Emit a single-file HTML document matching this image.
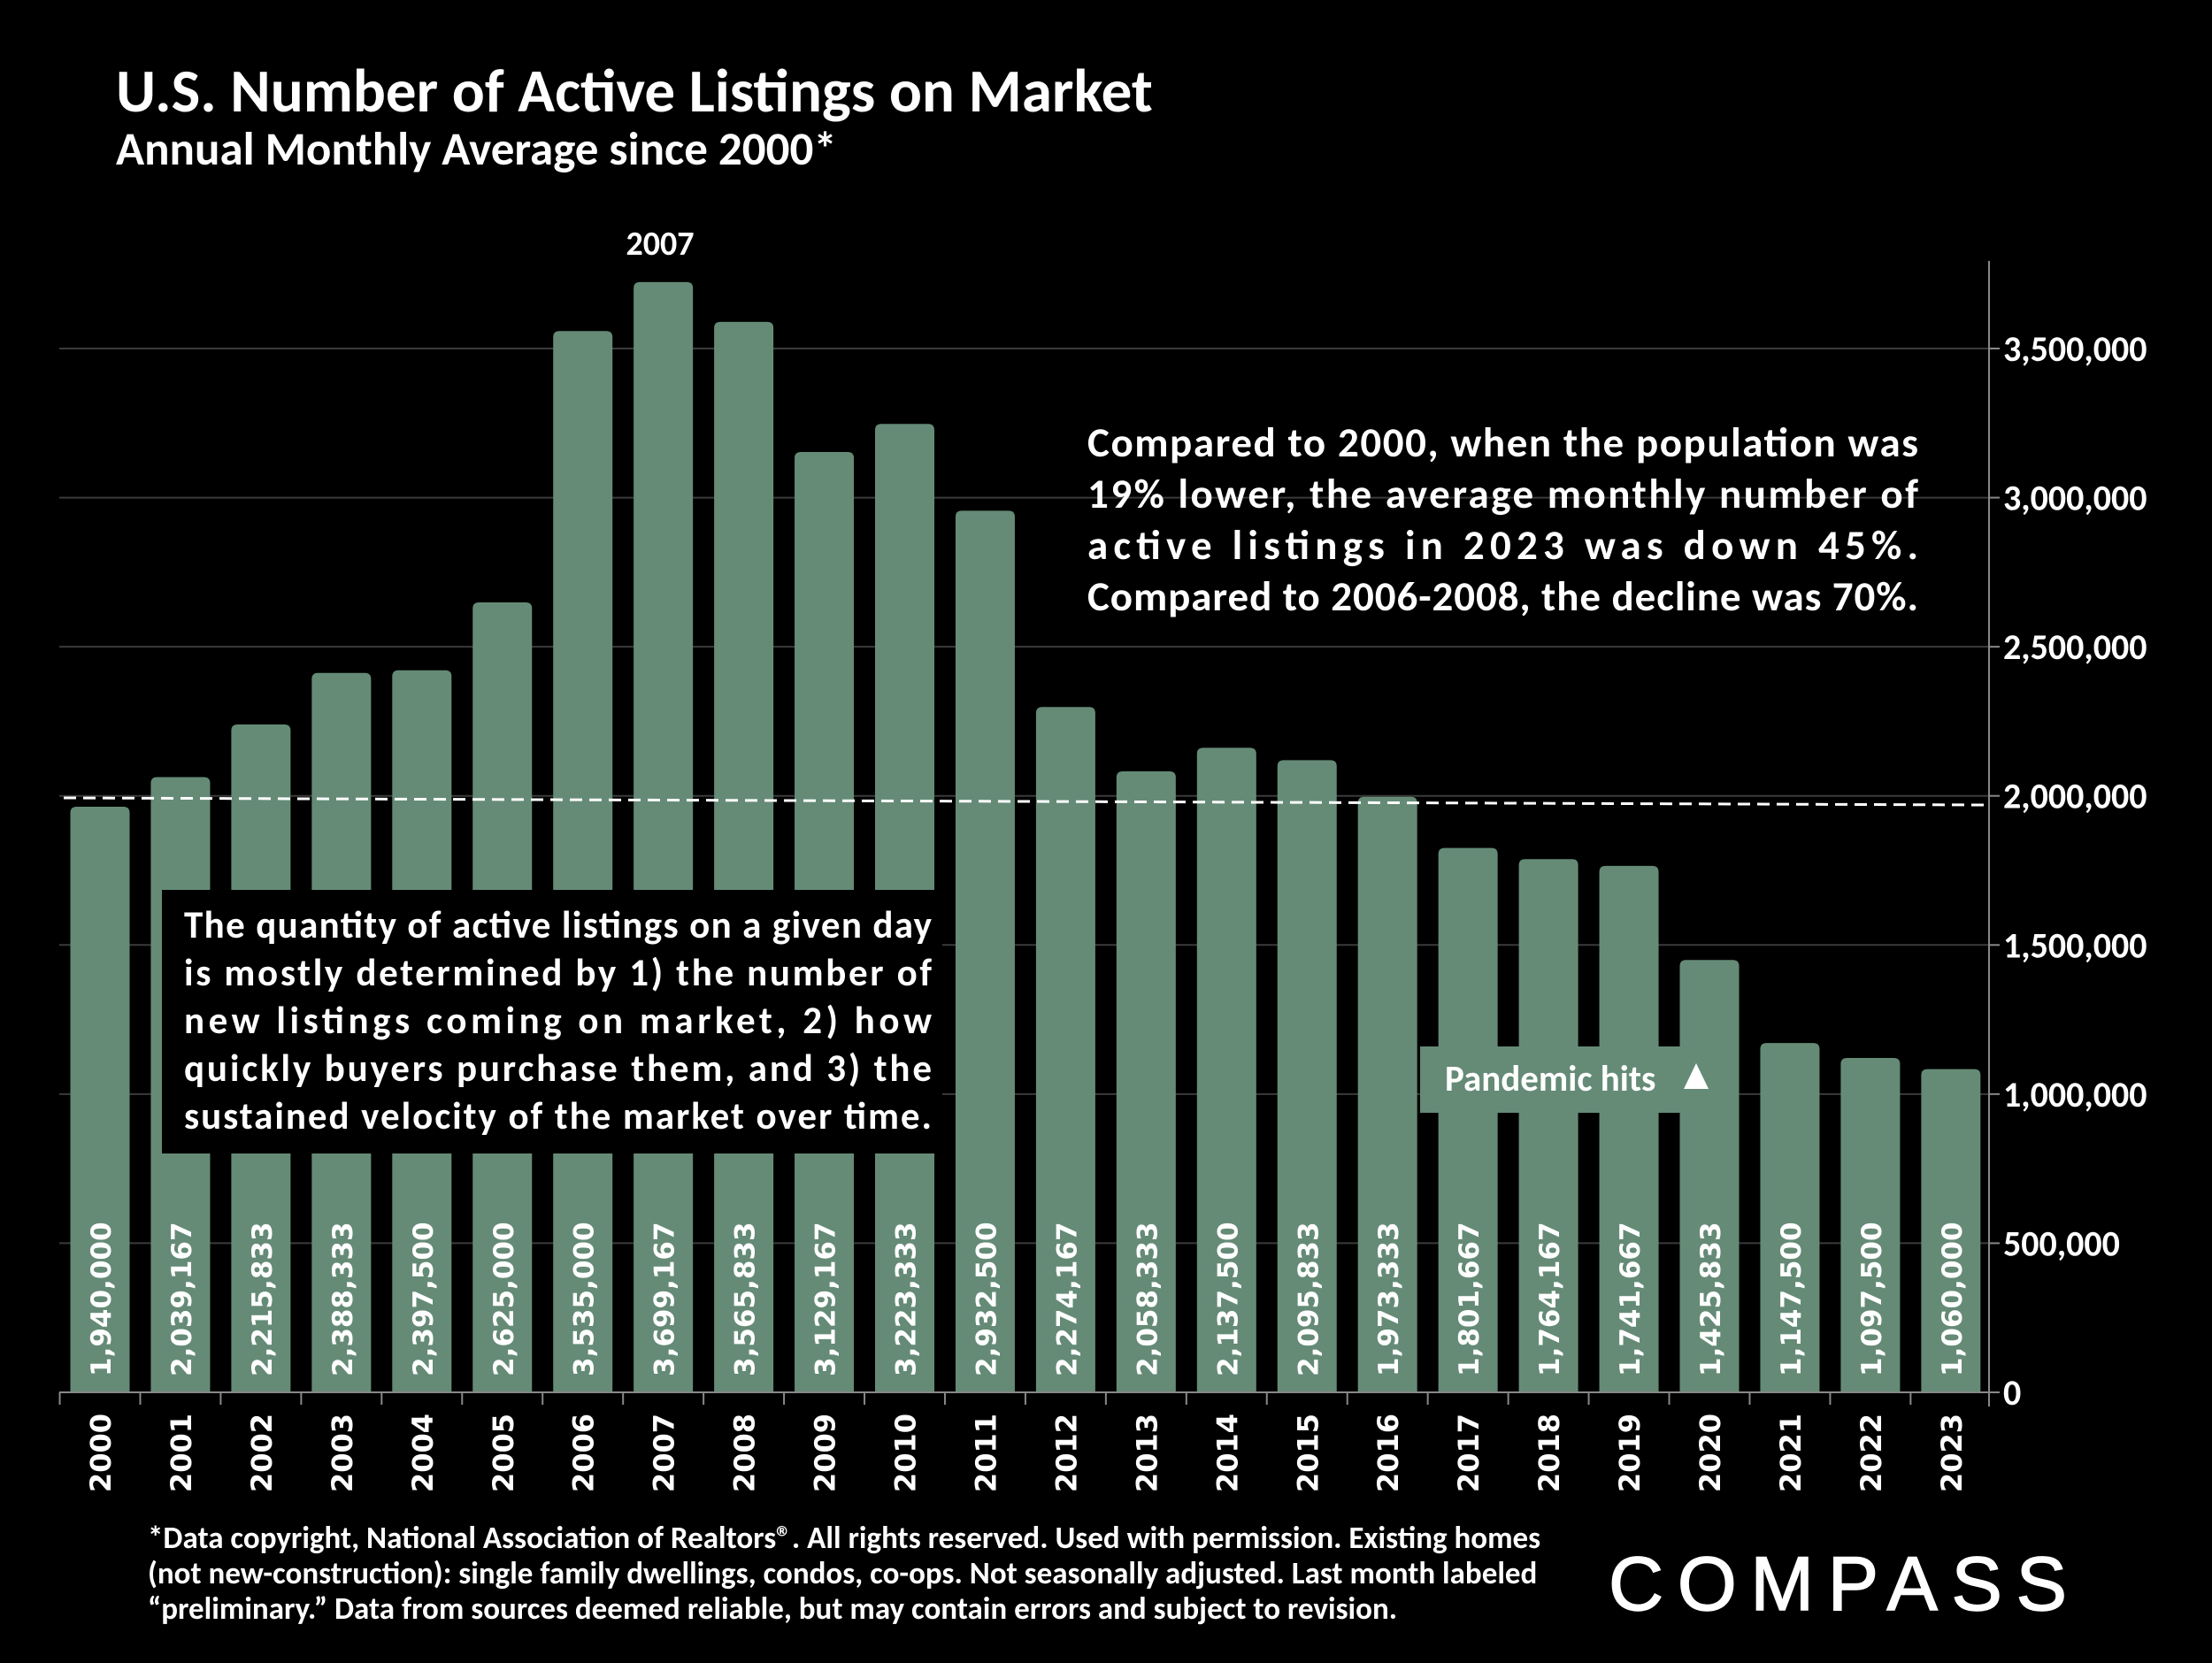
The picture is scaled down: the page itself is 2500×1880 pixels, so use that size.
<!DOCTYPE html>
<html><head><meta charset="utf-8"><style>
body{margin:0;background:#000;width:2500px;height:1875px;overflow:hidden;font-family:Carlito,"Liberation Sans Narrow","Liberation Sans",sans-serif;color:#fff}
</style></head><body>
<svg id="chart" width="2500" height="1875" viewBox="0 0 2500 1875" xmlns="http://www.w3.org/2000/svg">
<rect width="2500" height="1875" fill="#000"/>
<text x="131" y="126" font-size="69" font-weight="bold" fill="#fff">U.S. Number of Active Listings on Market</text>
<text x="131" y="186" font-size="53" font-weight="bold" fill="#fff">Annual Monthly Average since 2000*</text>
<g id="grid"></g><g id="bars"></g><g id="axes"></g>
<line x1="72" y1="902" x2="2244" y2="910" stroke="#fff" stroke-width="3" stroke-dasharray="14,8"/>
<text x="746" y="288" font-size="38" font-weight="bold" fill="#fff" text-anchor="middle">2007</text>
<g font-size="47" font-weight="bold" fill="#fff">
<text x="1229" y="516" textLength="939" lengthAdjust="spacing">Compared to 2000, when the population was</text>
<text x="1229" y="574" textLength="939" lengthAdjust="spacing">19% lower, the average monthly number of</text>
<text x="1229" y="632" textLength="939" lengthAdjust="spacing">active listings in 2023 was down 45%.</text>
<text x="1229" y="690" textLength="939" lengthAdjust="spacing">Compared to 2006-2008, the decline was 70%.</text>
</g>
<rect x="183" y="1006" width="882" height="298" fill="#000"/>
<g font-size="43" font-weight="bold" fill="#fff">
<text x="208" y="1060" textLength="845" lengthAdjust="spacing">The quantity of active listings on a given day</text>
<text x="208" y="1114" textLength="845" lengthAdjust="spacing">is mostly determined by 1) the number of</text>
<text x="208" y="1168" textLength="845" lengthAdjust="spacing">new listings coming on market, 2) how</text>
<text x="208" y="1222" textLength="845" lengthAdjust="spacing">quickly buyers purchase them, and 3) the</text>
<text x="208" y="1276" textLength="845" lengthAdjust="spacing">sustained velocity of the market over time.</text>
</g>
<rect x="1605" y="1183" width="340" height="75" fill="#658b77"/>
<text x="1633" y="1233" font-size="41" font-weight="bold" fill="#fff">Pandemic hits</text>
<polygon points="1917,1202 1931,1231 1903,1231" fill="#fff"/>
<g font-size="35" font-weight="bold" fill="#fff">
<text x="167" y="1750">*Data copyright, National Association of Realtors®. All rights reserved. Used with permission. Existing homes</text>
<text x="167" y="1790">(not new-construction): single family dwellings, condos, co-ops. Not seasonally adjusted. Last month labeled</text>
<text x="167" y="1830">“preliminary.” Data from sources deemed reliable, but may contain errors and subject to revision.</text>
</g>
<text x="1818" y="1820" font-family="'Liberation Sans',sans-serif" font-size="86" fill="#fff" stroke="#fff" stroke-width="1.5" textLength="518" lengthAdjust="spacing">COMPASS</text>
</svg>
<script>
const years=["2000","2001","2002","2003","2004","2005","2006","2007","2008","2009","2010","2011","2012","2013","2014","2015","2016","2017","2018","2019","2020","2021","2022","2023"];
const listings=[1940000,2039167,2215833,2388333,2397500,2625000,3535000,3699167,3565833,3129167,3223333,2932500,2274167,2058333,2137500,2095833,1973333,1801667,1764167,1741667,1425833,1147500,1097500,1060000];
const yTicks=[0,500000,1000000,1500000,2000000,2500000,3000000,3500000];
const NS="http://www.w3.org/2000/svg";
const baseY=1574,pxPer=168.57/500000,x0=113,step=90.95,bw=67,axisX=2248,left=67,lift=8;
const yS=v=>baseY-v*pxPer, xS=i=>x0+i*step;
function mk(t,a,p){const e=document.createElementNS(NS,t);for(const k in a)e.setAttribute(k,a[k]);p.appendChild(e);return e;}
const grid=document.getElementById('grid'),bars=document.getElementById('bars'),axes=document.getElementById('axes');
yTicks.forEach(v=>{
 const y=yS(v);
 if(v>0){const g=mk('line',{x1:left,y1:y,x2:axisX,y2:y,stroke:'#3a3a3a','stroke-width':2},grid);
 
 }
 const tk=mk('line',{x1:axisX,y1:y,x2:axisX+12,y2:y,stroke:'#888','stroke-width':2},axes);
 
 
 const t=mk('text',{x:axisX+16,y:y+14,'font-size':40,'font-weight':'bold',fill:'#fff'},axes);
 
 
 t.textContent=v.toLocaleString('en-US');
});
const ax=mk('line',{x1:axisX,y1:295,x2:axisX,y2:baseY+16,stroke:'#888','stroke-width':2},axes);


const bx=mk('line',{x1:left,y1:baseY,x2:axisX,y2:baseY,stroke:'#888','stroke-width':2},axes);


years.forEach((yr,i)=>{
 const cx=xS(i),v=listings[i],top=yS(v)-lift,r=7;
 const b=mk('path',{d:`M${cx-bw/2},${baseY} V${top+r} Q${cx-bw/2},${top} ${cx-bw/2+r},${top} H${cx+bw/2-r} Q${cx+bw/2},${top} ${cx+bw/2},${top+r} V${baseY} Z`,fill:'#658b77'},bars);
 
 
 const vl=mk('text',{x:0,y:0,'font-family':"'DejaVu Sans',sans-serif",'font-size':31,'font-weight':'bold',fill:'#fff',transform:`translate(${cx+12},${baseY-18}) rotate(-90)`},bars);
 
 
 vl.textContent=v.toLocaleString('en-US');
 const tk=mk('line',{x1:cx-step/2,y1:baseY,x2:cx-step/2,y2:baseY+14,stroke:'#888','stroke-width':2},axes);
 
 
 const yl=mk('text',{x:0,y:0,'font-family':"'DejaVu Sans',sans-serif",'font-size':32,'font-weight':'bold',fill:'#fff','text-anchor':'end',transform:`translate(${cx+12},${baseY+24}) rotate(-90)`},axes);
 
 
 yl.textContent=yr;
});
</script>
</body></html>
